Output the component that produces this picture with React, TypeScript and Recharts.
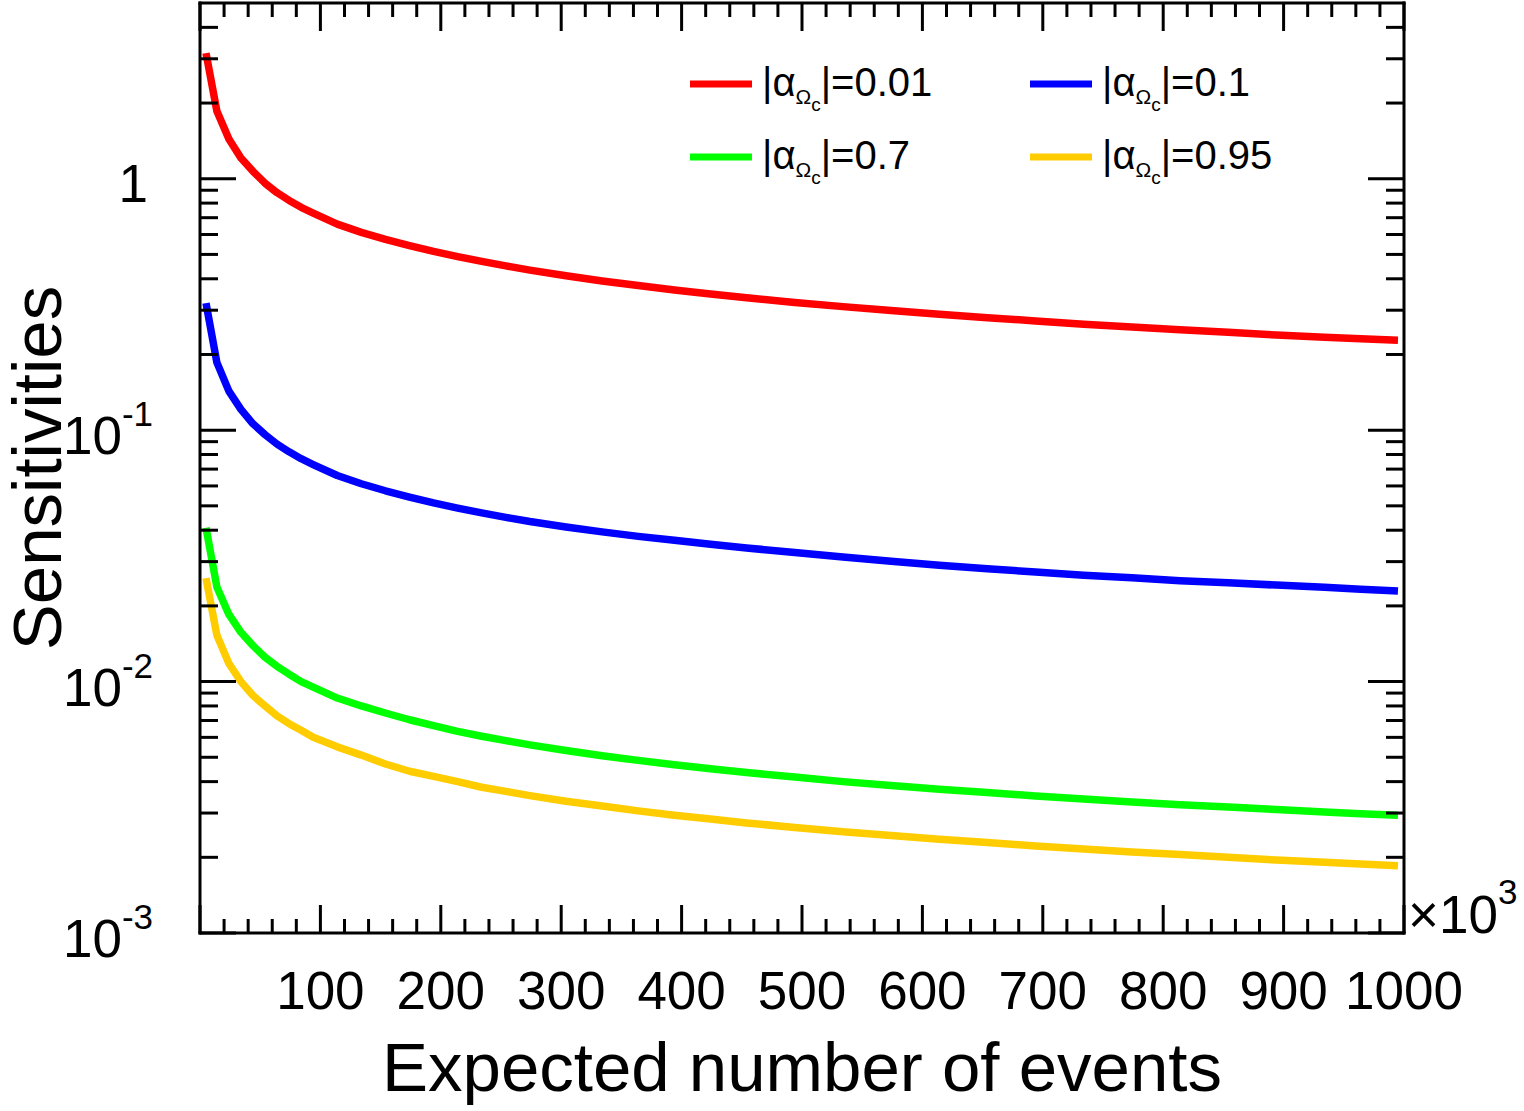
import React from 'react';
import { LineChart, Line, XAxis, YAxis, Legend } from 'recharts';

const FONT = '"Liberation Sans", Arial, Helvetica, sans-serif';

// Expected number of events (x 10^3)
const events = [5, 14, 24, 34, 44, 54, 64, 74, 84, 94, 114, 134, 154, 174, 194, 214, 234, 254, 274, 304, 334, 364, 394, 424, 454, 494, 534, 574, 614, 654, 694, 734, 774, 814, 854, 894, 934, 964, 995];

// Sensitivities
const sensRed = [3.16, 1.86, 1.44, 1.21, 1.07, 0.96, 0.88, 0.82, 0.77, 0.73, 0.66, 0.612, 0.574, 0.542, 0.514, 0.49, 0.469, 0.45, 0.433, 0.411, 0.392, 0.376, 0.361, 0.348, 0.336, 0.322, 0.31, 0.299, 0.289, 0.28, 0.272, 0.264, 0.257, 0.251, 0.245, 0.239, 0.234, 0.231, 0.228];
const sensBlue = [0.32, 0.186, 0.143, 0.121, 0.106, 0.096, 0.088, 0.082, 0.077, 0.073, 0.066, 0.0612, 0.0574, 0.0542, 0.0514, 0.049, 0.0469, 0.045, 0.0433, 0.0412, 0.0394, 0.0378, 0.0365, 0.0352, 0.034, 0.0326, 0.0313, 0.0301, 0.029, 0.0281, 0.0273, 0.0265, 0.0259, 0.0252, 0.0247, 0.0242, 0.0237, 0.0233, 0.0229];
const sensGreen = [0.0409, 0.0238, 0.0185, 0.0157, 0.0139, 0.0125, 0.0115, 0.0107, 0.01, 0.0095, 0.0086, 0.008, 0.0075, 0.00705, 0.00668, 0.00634, 0.00606, 0.00582, 0.0056, 0.00532, 0.00507, 0.00486, 0.00467, 0.0045, 0.00435, 0.00417, 0.004, 0.00386, 0.00373, 0.00362, 0.00351, 0.00341, 0.00332, 0.00324, 0.00317, 0.0031, 0.00303, 0.00298, 0.00294];
const sensYellow = [0.0258, 0.0153, 0.0118, 0.01, 0.0088, 0.008, 0.0073, 0.0068, 0.0064, 0.006, 0.0055, 0.0051, 0.0047, 0.0044, 0.0042, 0.004, 0.0038, 0.00366, 0.00352, 0.00334, 0.0032, 0.00306, 0.00294, 0.00284, 0.00274, 0.00263, 0.00253, 0.00244, 0.00236, 0.00229, 0.00222, 0.00216, 0.0021, 0.00205, 0.002, 0.00195, 0.00191, 0.00188, 0.00185];

const seriesKeys = ['red', 'blue', 'green', 'yellow'];
const seriesValues = ['0.01', '0.1', '0.7', '0.95'];
const seriesColors = ['#ff0000', '#0000ff', '#00ff00', '#ffcc00'];

const xTicks = [0, 20, 40, 60, 80, 100, 120, 140, 160, 180, 200, 220, 240, 260, 280, 300, 320, 340, 360, 380, 400, 420, 440, 460, 480, 500, 520, 540, 560, 580, 600, 620, 640, 660, 680, 700, 720, 740, 760, 780, 800, 820, 840, 860, 880, 900, 920, 940, 960, 980, 1000];
const xLabeled = [100, 200, 300, 400, 500, 600, 700, 800, 900, 1000];

const yTicks = [
  0.001, 0.002, 0.003, 0.004, 0.005, 0.006, 0.007, 0.008, 0.009,
  0.01, 0.02, 0.03, 0.04, 0.05, 0.06, 0.07, 0.08, 0.09,
  0.1, 0.2, 0.3, 0.4, 0.5, 0.6, 0.7, 0.8, 0.9,
  1, 2, 3, 4,
];
const yMajorLabels: Record<string, [string, string]> = {
  '1': ['1', ''],
  '0.1': ['10', '-1'],
  '0.01': ['10', '-2'],
  '0.001': ['10', '-3'],
};

const data = events.map((e, i) => ({
  events: e,
  red: sensRed[i],
  blue: sensBlue[i],
  green: sensGreen[i],
  yellow: sensYellow[i],
}));

const isMajorY = (v: number) => Math.abs(Math.log10(v) - Math.round(Math.log10(v))) < 1e-6;

const BottomTick = (props: any) => {
  const { x, y, payload } = props;
  const v = payload.value;
  const major = v % 100 === 0;
  return (
    <g>
      <line x1={x} x2={x} y1={y} y2={y - (major ? 28 : 14)} stroke="#000" strokeWidth={3} />
      {xLabeled.includes(v) && (
        <text x={x} y={y + 76} textAnchor="middle" fontSize={53} fontFamily={FONT} fill="#000">{v}</text>
      )}
      {v === 1000 && (
        <text x={x + 4} y={y} fontSize={53} fontFamily={FONT} fill="#000">
          ×10<tspan dy={-29} fontSize={35}>3</tspan>
        </text>
      )}
    </g>
  );
};

const TopTick = (props: any) => {
  const { x, y, payload } = props;
  const major = payload.value % 100 === 0;
  return <line x1={x} x2={x} y1={y} y2={y + (major ? 28 : 14)} stroke="#000" strokeWidth={3} />;
};

const LeftTick = (props: any) => {
  const { x, y, payload } = props;
  const v = payload.value;
  const major = isMajorY(v);
  const lab = yMajorLabels[String(v)];
  return (
    <g>
      <line x1={x} x2={x + (major ? 36 : 18)} y1={y} y2={y} stroke="#000" strokeWidth={3} />
      {lab && lab[1] === '' && (
        <text x={x - 52} y={y + 23} textAnchor="end" fontSize={53} fontFamily={FONT} fill="#000">{lab[0]}</text>
      )}
      {lab && lab[1] !== '' && (
        <text x={x - 137} y={y + 24} fontSize={53} fontFamily={FONT} fill="#000">
          {lab[0]}<tspan dy={-28} fontSize={35}>{lab[1]}</tspan>
        </text>
      )}
    </g>
  );
};

const RightTick = (props: any) => {
  const { x, y, payload } = props;
  const major = isMajorY(payload.value);
  return <line x1={x} x2={x - (major ? 36 : 18)} y1={y} y2={y} stroke="#000" strokeWidth={3} />;
};

const XTitle = (props: any) => {
  const vb = props.viewBox || { x: 200, y: 933, width: 1204, height: 178 };
  return (
    <text x={vb.x + vb.width / 2} y={vb.y + 158} textAnchor="middle" fontSize={69} fontFamily={FONT} fill="#000">
      Expected number of events
    </text>
  );
};

const YTitle = (props: any) => {
  const vb = props.viewBox || { x: 0, y: 3, width: 200, height: 930 };
  const cy = vb.y + vb.height / 2;
  return (
    <text x={61} y={cy} transform={`rotate(-90, 61, ${cy})`} textAnchor="middle" fontSize={69} fontFamily={FONT} fill="#000">
      Sensitivities
    </text>
  );
};

const LegendContent = () => (
  <svg width={720} height={160} style={{ display: 'block' }}>
    {seriesValues.map((n, i) => {
      const col = i % 2;
      const row = Math.floor(i / 2);
      const x0 = 10 + col * 340;
      const yl = 46 + row * 73;
      return (
        <g key={n}>
          <line x1={x0} x2={x0 + 62} y1={yl} y2={yl} stroke={seriesColors[i]} strokeWidth={7} />
          <text x={x0 + 72} y={yl + 12} fontSize={40} fontFamily={FONT} fill="#000">
            |α<tspan fontSize={21} dy={8}>Ω</tspan>
            <tspan fontSize={19} dy={7}>c</tspan>
            <tspan fontSize={40} dy={-15}>|={n}</tspan>
          </text>
        </g>
      );
    })}
  </svg>
);

export default function App() {
  return (
    <div style={{ position: 'absolute', left: 0, top: 0, width: 1524, height: 1111, background: '#fff' }}>
      <LineChart width={1524} height={1111} data={data} margin={{ top: 0, right: 0, bottom: 0, left: 0 }}>
        <XAxis
          xAxisId="bottom"
          dataKey="events"
          type="number"
          domain={[0, 1000]}
          allowDataOverflow
          ticks={xTicks}
          interval={0}
          tickLine={false}
          tickSize={0}
          tickMargin={0}
          height={178}
          axisLine={{ stroke: '#000', strokeWidth: 3, strokeLinecap: 'square' }}
          tick={<BottomTick />}
          label={<XTitle />}
        />
        <XAxis
          xAxisId="top"
          orientation="top"
          dataKey="events"
          type="number"
          domain={[0, 1000]}
          allowDataOverflow
          ticks={xTicks}
          interval={0}
          tickLine={false}
          tickSize={0}
          tickMargin={0}
          height={3}
          axisLine={{ stroke: '#000', strokeWidth: 3, strokeLinecap: 'square' }}
          tick={<TopTick />}
        />
        <YAxis
          yAxisId="left"
          scale="log"
          type="number"
          domain={[0.001, 5]}
          allowDataOverflow
          ticks={yTicks}
          interval={0}
          tickLine={false}
          tickSize={0}
          tickMargin={0}
          width={200}
          axisLine={{ stroke: '#000', strokeWidth: 3, strokeLinecap: 'square' }}
          tick={<LeftTick />}
          label={<YTitle />}
        />
        <YAxis
          yAxisId="right"
          orientation="right"
          scale="log"
          type="number"
          domain={[0.001, 5]}
          allowDataOverflow
          ticks={yTicks}
          interval={0}
          tickLine={false}
          tickSize={0}
          tickMargin={0}
          width={120}
          axisLine={{ stroke: '#000', strokeWidth: 3, strokeLinecap: 'square' }}
          tick={<RightTick />}
        />
        {seriesKeys.map((k, i) => (
          <Line
            key={k}
            xAxisId="bottom"
            yAxisId="left"
            type="linear"
            dataKey={k}
            name={`|α_Ωc|=${seriesValues[i]}`}
            stroke={seriesColors[i]}
            strokeWidth={7.5}
            strokeLinejoin="round"
            dot={false}
            activeDot={false}
            isAnimationActive={false}
          />
        ))}
        <Legend
          layout="horizontal"
          verticalAlign="middle"
          align="center"
          wrapperStyle={{ position: 'absolute', left: 680, top: 38, width: 720, height: 160 }}
          content={<LegendContent />}
        />
      </LineChart>
    </div>
  );
}
